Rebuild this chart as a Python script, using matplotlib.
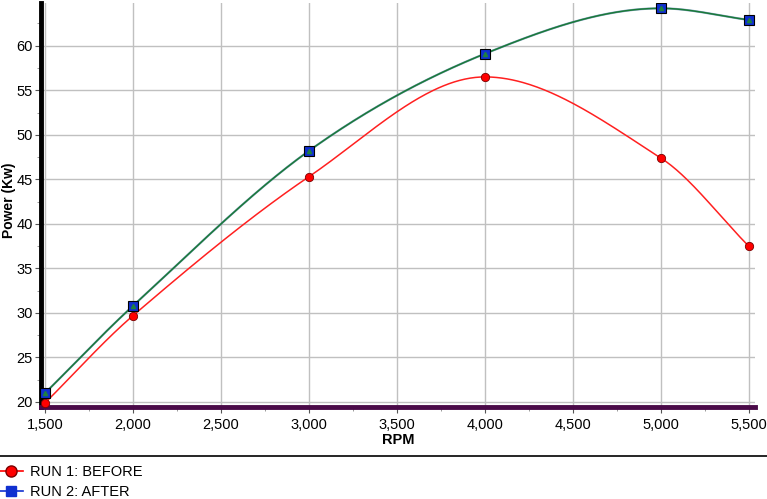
import numpy as np
import matplotlib
matplotlib.use("Agg")
import matplotlib.pyplot as plt
from matplotlib.lines import Line2D

plt.rcParams['font.family'] = ['Liberation Sans', 'DejaVu Sans']

rpm = [1500, 2000, 3000, 4000, 5000, 5500]
run1_before = [19.9, 29.7, 45.3, 56.5, 47.4, 37.5]
run2_after = [21.0, 30.8, 48.2, 59.1, 64.2, 62.9]


def smooth(x, y, n=400):
    # cubic hermite curve, catmull-rom style slopes, flat at peaks
    x = np.asarray(x, float)
    y = np.asarray(y, float)
    h = np.diff(x)
    d = np.diff(y) / h
    m = np.zeros_like(y)
    for k in range(1, len(x) - 1):
        if d[k - 1] * d[k] > 0:
            m[k] = (y[k + 1] - y[k - 1]) / (x[k + 1] - x[k - 1])
    m[0] = d[0]
    m[-1] = d[-1]
    xs = np.linspace(x[0], x[-1], n)
    idx = np.clip(np.searchsorted(x, xs) - 1, 0, len(x) - 2)
    t = (xs - x[idx]) / h[idx]
    h00 = 2 * t**3 - 3 * t**2 + 1
    h10 = t**3 - 2 * t**2 + t
    h01 = -2 * t**3 + 3 * t**2
    h11 = t**3 - t**2
    ys = h00 * y[idx] + h10 * h[idx] * m[idx] + h01 * y[idx + 1] + h11 * h[idx] * m[idx + 1]
    return xs, ys


fig = plt.figure(figsize=(7.67, 4.99), dpi=100)
ax = fig.add_axes([0.0535, 0.1844, 0.9305, 0.8096])

xs, ys = smooth(rpm, run1_before)
ax.plot(xs, ys, color='#ff2020', lw=1.1, zorder=3)
ax.plot(rpm, run1_before, 'o', color='red', mec='#7a0000', mew=0.6, ms=6, zorder=4)

xs, ys = smooth(rpm, run2_after)
ax.plot(xs, ys, color='#3a6aa0', lw=1.6, alpha=0.6, zorder=3)
ax.plot(xs, ys, color='#1a7a38', lw=1.1, zorder=3)
ax.plot(rpm, run2_after, 's', color='#1030d0', mec='black', mew=0.8, ms=6.5, zorder=4)
ax.plot(rpm, run2_after, '^', color='#208040', mec='#208040', ms=3, zorder=5)

ax.set_xlim(1477, 5534)
ax.set_ylim(19.44, 64.8)
ax.set_xticks(np.arange(1500, 5501, 500))
ax.set_xticks(np.arange(1750, 5500, 500), minor=True)
ax.set_yticks(np.arange(20, 61, 5))
ax.set_yticks(np.arange(22.5, 64, 5), minor=True)
ax.xaxis.set_major_formatter(matplotlib.ticker.StrMethodFormatter('{x:,.0f}'))
ax.tick_params(axis='both', which='major', labelsize=10.5, length=4, color='#555555', pad=2)
ax.tick_params(axis='x', which='major', pad=4)
ax.tick_params(axis='both', which='minor', length=3, color='#888888')
ax.grid(True, which='major', color='#c0c0c0', lw=1)
ax.set_axisbelow(True)

for side in ['top', 'right']:
    ax.spines[side].set_visible(False)
ax.spines['left'].set_linewidth(3.5)
ax.spines['left'].set_color('black')
ax.spines['bottom'].set_linewidth(3.5)
ax.spines['bottom'].set_color('#4a0a48')

ax.set_xlabel('RPM', fontsize=10.5, fontweight='bold', labelpad=1)
fig.text(9 / 767, 1 - 200 / 499, 'Power (Kw)', rotation=90, fontsize=10,
         fontweight='bold', ha='center', va='center')

# legend area under a separator line
fig.add_artist(Line2D([0, 1], [1 - 456 / 499] * 2, color='black', lw=1.2))
handles = [
    Line2D([], [], color='red', marker='o', mfc='red', mec='#7a0000', ms=8, lw=1.2),
    Line2D([], [], color='#1030d0', marker='s', mfc='#1030d0', mec='#1030d0', ms=7, lw=1.2),
]
fig.legend(handles, ['RUN 1: BEFORE', 'RUN 2: AFTER'], loc='upper left',
           bbox_to_anchor=(-0.008, 1 - 459 / 499), frameon=False, fontsize=10.5,
           handlelength=1.6, handletextpad=0.5, labelspacing=0.45, borderaxespad=0)

fig.savefig('out.png', dpi=100)
